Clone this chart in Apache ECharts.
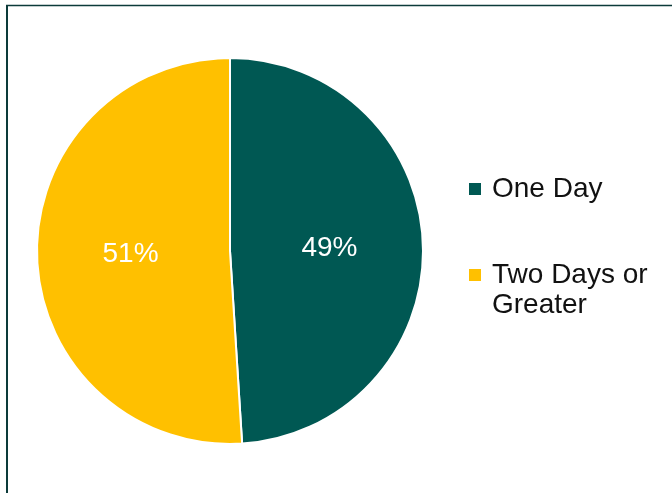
<!DOCTYPE html>
<html>
<head>
<meta charset="utf-8">
<script src="https://cdn.jsdelivr.net/npm/echarts@6/dist/echarts.min.js"></script>
<style>
  html, body { margin: 0; padding: 0; background: #ffffff; }
  #chart { width: 672px; height: 493px; }
</style>
</head>
<body>
<div id="chart"></div>
<script>
// Share of stays by length
const categories = ['One Day', 'Two Days or\nGreater'];
const shares = [49, 51];
const sliceColors = ['#005853', '#FFC000'];

const chart = echarts.init(document.getElementById('chart'), null, { renderer: 'canvas' });

const fontFamily = '"Liberation Sans", Arial, sans-serif';

const legendBase = {
  orient: 'vertical',
  left: 469,
  padding: 0,
  itemWidth: 12,
  itemHeight: 12,
  icon: 'rect',
  selectedMode: false,
  itemStyle: { borderWidth: 0 }
};

chart.setOption({
  animation: false,
  backgroundColor: '#ffffff',
  color: sliceColors,
  legend: [
    Object.assign({}, legendBase, {
      top: 174,
      data: [categories[0]],
      textStyle: { fontFamily, fontSize: 28, color: '#111111', lineHeight: 30, padding: [0, 0, 0, 6] }
    }),
    Object.assign({}, legendBase, {
      top: 230,
      data: [categories[1]],
      // leading blank line keeps the marker beside the first line of the wrapped name
      formatter: name => '\n' + name,
      textStyle: { fontFamily, fontSize: 28, color: '#111111', lineHeight: 30, padding: [0, 0, 0, 6] }
    })
  ],
  graphic: [
    { type: 'line', shape: { x1: 7, y1: 5, x2: 7, y2: 493 }, style: { stroke: '#0C3B3A', lineWidth: 2 } },
    { type: 'line', shape: { x1: 6, y1: 5.5, x2: 672, y2: 5.5 }, style: { stroke: '#0C3B3A', lineWidth: 1.5 } }
  ],
  series: [{
    type: 'pie',
    center: [230, 251],
    radius: 193,
    startAngle: 90,
    clockwise: true,
    label: {
      show: true,
      position: 'inside',
      formatter: p => p.value + '%',
      color: '#ffffff',
      fontFamily,
      fontSize: 28
    },
    labelLine: { show: false },
    itemStyle: { borderColor: '#ffffff', borderWidth: 2 },
    emphasis: { disabled: true },
    data: categories.map((name, i) => ({ name, value: shares[i] }))
  }]
});
</script>
</body>
</html>
